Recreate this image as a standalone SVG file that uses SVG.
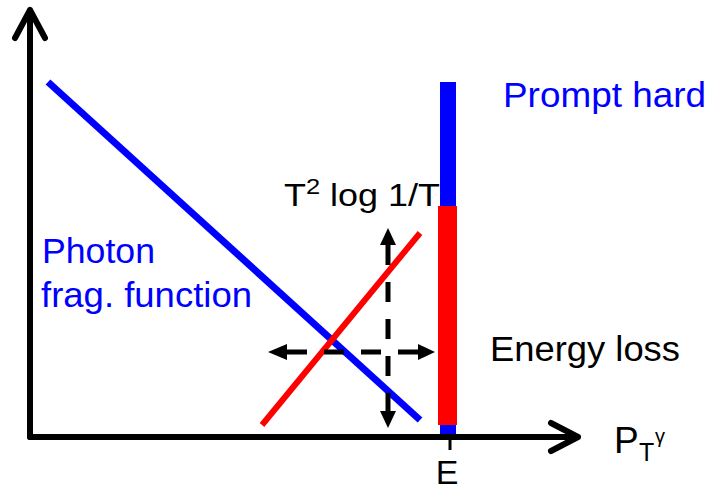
<svg xmlns="http://www.w3.org/2000/svg" width="709" height="486" viewBox="0 0 709 486">
<style>
.t{font-family:"Liberation Sans",Arial,sans-serif;}
.blue{fill:#0000ff;}
.blk{fill:#000;}
.axis{stroke:#000;stroke-width:6;fill:none;stroke-linecap:round;stroke-linejoin:round;}
.dash{stroke:#000;stroke-width:5;fill:none;stroke-dasharray:20 17;}
</style>
<rect width="709" height="486" fill="#fff"/>
<g id="connectors">
<path class="axis" d="M30 437 V10 M15 38 L30 10 L45 38"/>
<path class="axis" d="M30 437 H578 M551 423 L578 437 L551 451"/>
<line x1="450" y1="437" x2="450" y2="450" stroke="#000" stroke-width="3"/>
<line x1="48" y1="82" x2="420" y2="420" stroke="#0000ff" stroke-width="7"/>
<line x1="262" y1="425" x2="420" y2="233" stroke="#ff0000" stroke-width="6"/>
<line class="dash" x1="388" y1="245" x2="388" y2="412"/>
<line class="dash" x1="287" y1="352" x2="420" y2="352"/>
<polygon points="388,228 380,245 396,245" fill="#000"/>
<polygon points="388,428 380,411 396,411" fill="#000"/>
<polygon points="268,352 287,344 287,360" fill="#000"/>
<polygon points="435,352 418,344 418,360" fill="#000"/>
</g>
<g id="prompt-bar">
<rect x="440" y="82" width="16" height="352" fill="#0000ff"/>
</g>
<g id="energy-bar">
<rect x="438" y="206" width="19" height="219" fill="#ff0000"/>
</g>
<g id="labels">
<text class="t blue" x="503" y="107" font-size="35" textLength="203" lengthAdjust="spacingAndGlyphs">Prompt hard</text>
<text class="t blk" x="490" y="361" font-size="35" textLength="190" lengthAdjust="spacingAndGlyphs">Energy loss</text>
<text class="t blue" x="42" y="263" font-size="35" textLength="113" lengthAdjust="spacingAndGlyphs">Photon</text>
<text class="t blue" x="41" y="307" font-size="35" textLength="211" lengthAdjust="spacingAndGlyphs">frag. function</text>
<text class="t blk" x="284" y="206" font-size="31" textLength="156" lengthAdjust="spacingAndGlyphs">T<tspan font-size="22" dy="-12">2</tspan><tspan dy="12"> log 1/T</tspan></text>
<text class="t blk" x="447" y="484" font-size="34" text-anchor="middle">E</text>
<text class="t blk" x="614" y="453" font-size="37">P<tspan font-size="25" x="639" y="461">T</tspan><tspan font-size="20" x="655" y="443">γ</tspan></text>
</g>
</svg>
